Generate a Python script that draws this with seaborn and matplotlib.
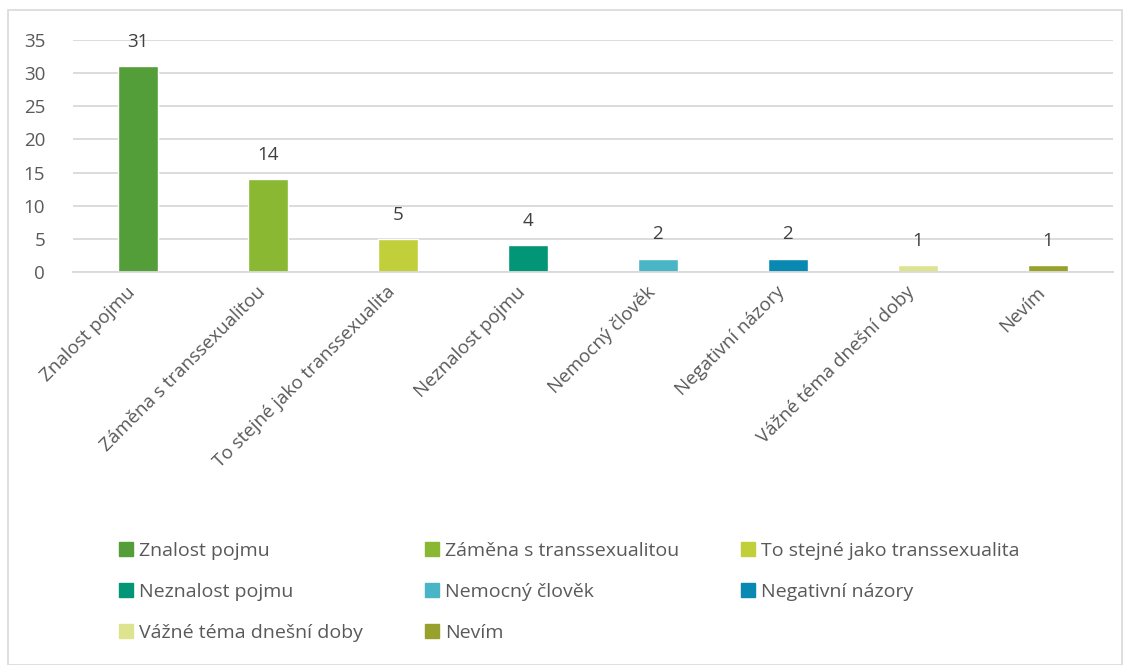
import matplotlib.pyplot as plt
import matplotlib.patches as mpatches
import matplotlib.transforms as mtransforms
import seaborn as sns
import pandas as pd

categories = ['Znalost pojmu', 'Záměna s transsexualitou', 'To stejné jako transsexualita',
              'Neznalost pojmu', 'Nemocný člověk', 'Negativní názory',
              'Vážné téma dnešní doby', 'Nevím']
counts = [31, 14, 5, 4, 2, 2, 1, 1]
colors = ['#549E39', '#8AB833', '#C0CF3A', '#029676', '#4AB5C4', '#0989B1', '#DDE38E', '#98A12C']

df = pd.DataFrame({'category': categories, 'count': counts})

sns.set_style('white')
plt.rcParams['font.family'] = ['Open Sans', 'DejaVu Sans']
text_color = '#595959'

fig = plt.figure(figsize=(11.32, 6.65), dpi=100)
ax = fig.add_axes([0.0645, 0.591, 0.9185, 0.349])

sns.barplot(data=df, x='category', y='count', hue='category', palette=colors,
            width=0.31, legend=False, ax=ax, saturation=1)

# value labels above bars
for container in ax.containers:
    ax.bar_label(container, padding=11, fontsize=13.5, color='#404040')

ax.set_ylim(0, 35)
ax.set_yticks(range(0, 36, 5))
ax.set_xlim(-0.5, len(categories) - 0.5)
ax.yaxis.grid(True, color='#D9D9D9', linewidth=1.3)
ax.set_axisbelow(True)
for side in ['top', 'right', 'left']:
    ax.spines[side].set_visible(False)
ax.spines['bottom'].set_color('#D9D9D9')
ax.spines['bottom'].set_linewidth(1.3)
ax.set_xlabel('')
ax.set_ylabel('')
ax.tick_params(axis='both', length=0, labelsize=13.5, labelcolor=text_color)
ax.tick_params(axis='y', pad=20)
ax.tick_params(axis='x', pad=8)

# rotated category labels, nudged left so they end just before the bar centre
shift = mtransforms.ScaledTranslation(-12 / 100, 0, fig.dpi_scale_trans)
for lbl in ax.get_xticklabels():
    lbl.set_rotation(45)
    lbl.set_ha('right')
    lbl.set_rotation_mode('anchor')
    lbl.set_transform(lbl.get_transform() + shift)

# legend
handles = [mpatches.Patch(color=c, label=l) for c, l in zip(colors, categories)]
order = [0, 3, 6, 1, 4, 7, 2, 5]
leg = fig.legend([handles[i] for i in order], [categories[i] for i in order],
                 ncol=3, loc='upper left', bbox_to_anchor=(0.090, 0.212),
                 frameon=False, fontsize=14, handlelength=0.72, handleheight=0.72,
                 handletextpad=0.3, columnspacing=3.2, labelspacing=1.2)
for t in leg.get_texts():
    t.set_color(text_color)

# outer border
fig.patches.append(mpatches.Rectangle((0.007, 0.0), 0.984, 0.985, transform=fig.transFigure,
                                      fill=False, edgecolor='#D9D9D9', linewidth=1.2))

fig.savefig('out.png', dpi=100)
